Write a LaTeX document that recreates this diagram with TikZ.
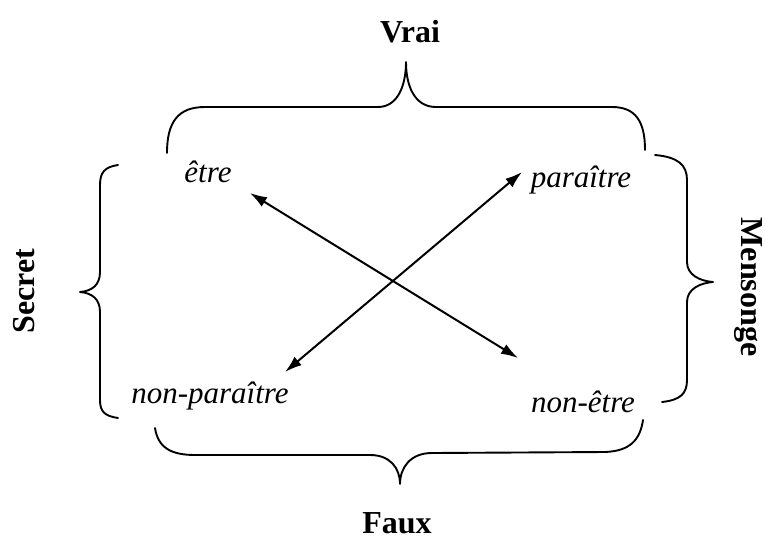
\documentclass[tikz,border=0pt]{standalone}
\usepackage{fontspec}
\setmainfont{Liberation Serif}
\usetikzlibrary{arrows.meta}
\begin{document}
\begin{tikzpicture}[x=1pt,y=-1pt,
  bracepath/.style={line width=1.9pt, line cap=round, line join=round},
  arrowline/.style={line width=2pt, {Latex[length=17pt,width=11pt]}-{Latex[length=17pt,width=11pt]}},
  labelbold/.style={font=\fontsize{32}{36}\selectfont\bfseries, inner sep=0pt},
  worditalic/.style={font=\fontsize{31}{36}\selectfont\itshape, inner sep=0pt, anchor=base}]
\useasboundingbox (0,0) rectangle (765,541);
% texts
\node[labelbold] (vrai) at (410,32) {Vrai};
\node[labelbold] (faux) at (397,523) {Faux};
\node[labelbold, rotate=90] (secret) at (24,291) {Secret};
\node[labelbold, rotate=-90] (mensonge) at (748,287) {Mensonge};
\node[worditalic] (etre) at (208,182) {être};
\node[worditalic] (paraitre) at (581,187) {paraître};
\node[worditalic] (nonparaitre) at (210,403) {non-paraître};
\node[worditalic] (nonetre) at (583,412) {non-être};
% arrow ends
\coordinate (a1) at (250,193);
\coordinate (b1) at (518,358);
\coordinate (a2) at (285,372);
\coordinate (b2) at (522,172);
\draw[arrowline] (a1) -- (b1);
\draw[arrowline] (a2) -- (b2);
% top brace
\draw[bracepath] (167,153) .. controls (167,122) and (178,107) .. (205,107) -- (378,107)
  .. controls (398,107) and (406,85) .. (406,62)
  .. controls (406,85) and (414,107) .. (436,107) -- (612,107)
  .. controls (636,107) and (645,122) .. (645,150);
% left brace
\draw[bracepath] (118,165) .. controls (105,167) and (100,172) .. (100,185) -- (100,272)
  .. controls (100,285) and (92,291) .. (80,292)
  .. controls (92,293) and (100,299) .. (100,312) -- (100,400)
  .. controls (100,412) and (105,416) .. (118,418);
% right brace
\draw[bracepath] (655,155) .. controls (678,157) and (687,165) .. (687,180) -- (687,262)
  .. controls (687,275) and (700,281) .. (713,282)
  .. controls (700,283) and (687,289) .. (687,302) -- (687,380)
  .. controls (687,394) and (680,400) .. (662,402);
% bottom brace
\draw[bracepath] (155,428) .. controls (158,447) and (170,455) .. (195,455) -- (370,455)
  .. controls (390,455) and (400,468) .. (400,484)
  .. controls (400,468) and (410,453) .. (432,453) -- (605,452)
  .. controls (630,451) and (640,440) .. (643,420);
\end{tikzpicture}
\end{document}
